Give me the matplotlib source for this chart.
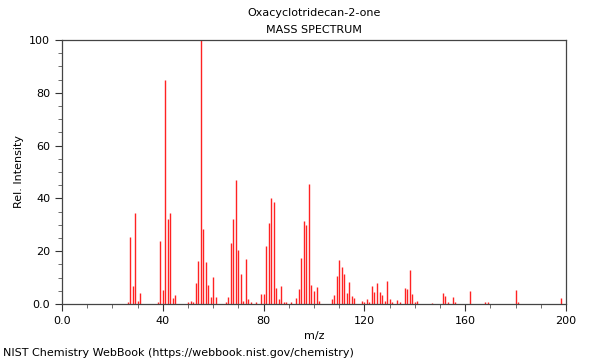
import matplotlib.pyplot as plt
from matplotlib.ticker import MultipleLocator

# peaks
mz = [26, 27, 28, 29, 30, 31, 38, 39, 40, 41, 42, 43, 44, 45,
      50, 51, 52, 53, 54, 55, 56, 57, 58, 59, 60, 61,
      65, 66, 67, 68, 69, 70, 71, 72, 73, 74, 75, 77, 79, 80,
      81, 82, 83, 84, 85, 86, 87, 88, 89, 91, 93, 94, 95, 96,
      97, 98, 99, 100, 101, 102, 107, 108, 109, 110, 111, 112,
      113, 114, 115, 116, 119, 120, 121, 122, 123, 124, 125, 126,
      127, 128, 129, 130, 131, 133, 134, 136, 137, 138, 139, 140,
      141, 147, 151, 152, 153, 155, 156, 162, 168, 169, 180, 181, 198]
intensity = [0.8, 25.5, 7.0, 34.4, 1.2, 4.3, 0.8, 24.0, 5.3, 84.8, 32.2, 34.6, 2.4, 3.4,
             0.6, 1.3, 0.7, 8.0, 16.4, 100.0, 28.3, 16.0, 7.2, 2.8, 10.4, 2.5,
             0.7, 2.5, 23.2, 32.2, 47.0, 20.4, 11.4, 1.2, 16.9, 1.9, 0.6, 0.8, 3.8, 3.8,
             22.0, 30.8, 40.0, 38.6, 6.2, 1.8, 6.8, 0.8, 0.7, 0.9, 2.4, 5.5, 17.5, 31.6,
             29.8, 45.3, 7.2, 4.9, 6.3, 1.0, 1.8, 3.4, 10.7, 16.7, 14.1, 11.2,
             4.0, 8.5, 3.2, 2.4, 1.0, 0.9, 1.9, 0.8, 6.8, 4.4, 8.0, 4.4,
             3.4, 1.2, 8.8, 1.9, 0.7, 1.5, 0.6, 5.9, 5.7, 12.7, 3.8, 0.8,
             1.2, 0.5, 4.3, 3.2, 0.9, 2.5, 0.7, 4.8, 0.8, 0.7, 5.3, 0.6, 2.4]
xticks = [0, 40, 80, 120, 160, 200]
xlabels = ['0.0', '40', '80', '120', '160', '200']
yticks = [0, 20, 40, 60, 80, 100]
ylabels = ['0.0', '20', '40', '60', '80', '100']

fig = plt.figure(figsize=(6, 3.6), dpi=100)
ax = fig.add_axes([62 / 600, 1 - 304 / 360, 504 / 600, 264 / 360])

ax.vlines(mz, 0, intensity, color='#ff2222', linewidth=1)

ax.set_xlim(0, 200)
ax.set_ylim(0, 100)
ax.xaxis.set_minor_locator(MultipleLocator(10))
ax.yaxis.set_minor_locator(MultipleLocator(5))
ax.set_xticks(xticks, xlabels)
ax.set_yticks(yticks, ylabels)
ax.tick_params(which='major', length=5, width=0.8, labelsize=8, color='#333333')
ax.tick_params(which='minor', length=3, width=0.6, color='#555555')
for s in ax.spines.values():
    s.set_color('#444444')
    s.set_linewidth(0.9)

ax.set_xlabel('m/z', fontsize=8)
ax.set_ylabel('Rel. Intensity', fontsize=8)
fig.text(314 / 600, 1 - 13 / 360, 'Oxacyclotridecan-2-one', ha='center', va='center', fontsize=8)
fig.text(314 / 600, 1 - 30 / 360, 'MASS SPECTRUM', ha='center', va='center', fontsize=8)
fig.text(3 / 600, 1 - 353 / 360, 'NIST Chemistry WebBook (https://webbook.nist.gov/chemistry)',
         ha='left', va='center', fontsize=8)

fig.savefig('out.png', dpi=100)
